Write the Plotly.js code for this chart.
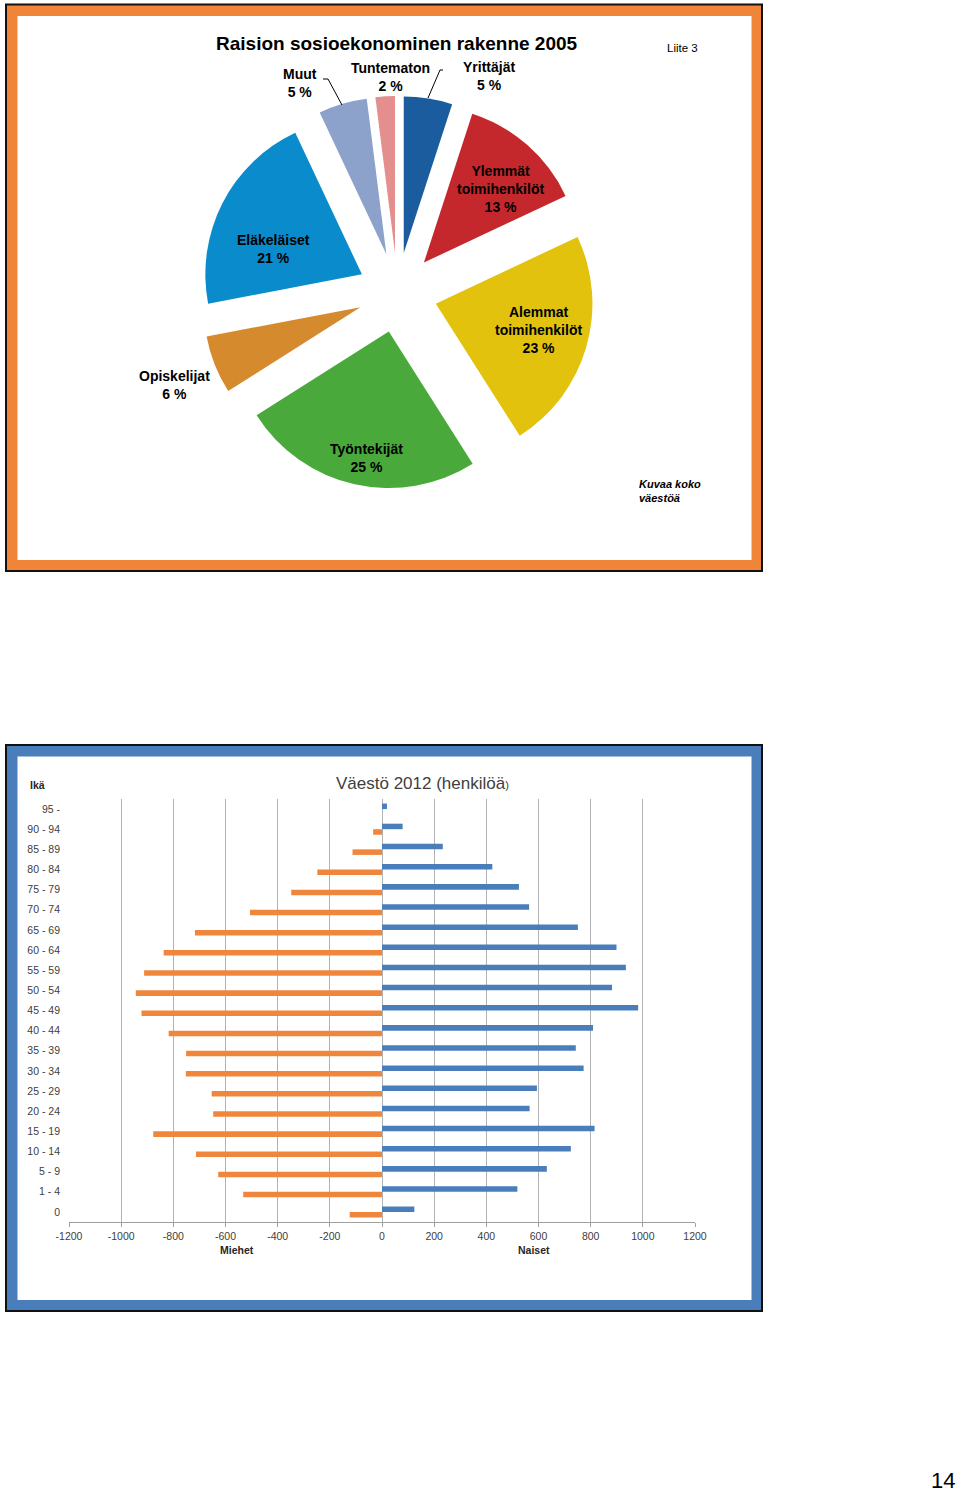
<!DOCTYPE html>
<html>
<head>
<meta charset="utf-8">
<script src="https://cdn.plot.ly/plotly-3.0.1.min.js"></script>
<style>
  body { margin: 0; background: #fff; }
  #page { width: 960px; height: 1495px; }
</style>
</head>
<body>
<div id="page"></div>
<script>
// sosioekonominen rakenne 2005 (%)
const pieLabels = ['Yrittäjät', 'Ylemmät toimihenkilöt', 'Alemmat toimihenkilöt', 'Työntekijät',
                   'Opiskelijat', 'Eläkeläiset', 'Muut', 'Tuntematon'];
const pieValues = [5, 13, 23, 25, 6, 21, 5, 2];
const pieColors = ['#1B5C9E', '#C4282C', '#E2C20C', '#4AA93B', '#D68A2E', '#0A8BCB', '#8CA2CB', '#E48E8E'];

// väestö 2012, ikäryhmät alhaalta ylös
const ageGroups = ['0', '1 - 4', '5 - 9', '10 - 14', '15 - 19', '20 - 24', '25 - 29', '30 - 34',
                   '35 - 39', '40 - 44', '45 - 49', '50 - 54', '55 - 59', '60 - 64', '65 - 69',
                   '70 - 74', '75 - 79', '80 - 84', '85 - 89', '90 - 94', '95 -'];
const men   = [124, 532, 628, 713, 877, 647, 653, 752, 751, 818, 922, 944, 912, 837, 717, 506, 348, 248, 113, 34, 0];
const women = [124, 519, 632, 724, 815, 566, 594, 773, 743, 809, 982, 882, 935, 899, 751, 564, 525, 423, 233, 79, 19];
const xTicks = [-1200, -1000, -800, -600, -400, -200, 0, 200, 400, 600, 800, 1000, 1200];

const W = 960, H = 1495;
const px = x => x / W;
const py = y => 1 - y / H;

// label block centres for the pie (pixels on the page)
const pieLabelPos = [[489, 76], [500, 189], [538, 330], [366, 458], [174, 385], [273, 249], [300, 83], [390, 77]];

const bold = 'Liberation Sans, Arial, sans-serif';

function frame(x0, y0, x1, y1, color) {
  return [
    {type: 'rect', xref: 'paper', yref: 'paper', layer: 'below',
     x0: px(x0), x1: px(x1), y0: py(y1), y1: py(y0), fillcolor: '#111', line: {width: 0}},
    {type: 'rect', xref: 'paper', yref: 'paper', layer: 'below',
     x0: px(x0 + 2), x1: px(x1 - 2), y0: py(y1 - 2), y1: py(y0 + 2), fillcolor: color, line: {width: 0}},
    {type: 'rect', xref: 'paper', yref: 'paper', layer: 'below',
     x0: px(x0 + 12.5), x1: px(x1 - 11.5), y0: py(y1 - 12), y1: py(y0 + 12.5), fillcolor: '#fff', line: {width: 0}}
  ];
}

function leader(points) {
  const path = points.map((p, i) => (i ? 'L' : 'M') + px(p[0]) + ',' + py(p[1])).join(' ');
  return {type: 'path', xref: 'paper', yref: 'paper', path: path, line: {color: '#000', width: 1}};
}

const pie = {
  type: 'pie',
  labels: pieLabels,
  values: pieValues,
  sort: false,
  direction: 'clockwise',
  rotation: 0,
  pull: pieValues.map(() => 0.255),
  marker: {colors: pieColors, line: {width: 0}},
  textinfo: 'none',
  hoverinfo: 'label+percent',
  showlegend: false,
  domain: {x: [px(201), px(594)], y: [py(490), py(95)]}
};

const menTrace = {
  type: 'bar', orientation: 'h', name: 'Miehet',
  y: ageGroups, x: men.map(v => -v),
  marker: {color: '#F0863C'}, showlegend: false
};
const womenTrace = {
  type: 'bar', orientation: 'h', name: 'Naiset',
  y: ageGroups, x: women,
  marker: {color: '#4A7EBB'}, showlegend: false
};

const annotations = pieLabels.map((lab, i) => ({
  xref: 'paper', yref: 'paper',
  x: px(pieLabelPos[i][0]), y: py(pieLabelPos[i][1]),
  xanchor: 'center', yanchor: 'middle',
  text: '<b>' + lab.replace(' ', '<br>') + '<br>' + pieValues[i] + ' %</b>',
  showarrow: false, align: 'center',
  font: {family: bold, size: 14, color: '#000'}
}));

annotations.push(
  {xref: 'paper', yref: 'paper', x: px(397), y: py(44), xanchor: 'center', yanchor: 'middle',
   text: '<b>Raision sosioekonominen rakenne 2005</b>', showarrow: false,
   font: {family: bold, size: 19, color: '#000'}},
  {xref: 'paper', yref: 'paper', x: px(665), y: py(48), xanchor: 'left', yanchor: 'middle',
   text: 'Liite 3', showarrow: false, font: {family: bold, size: 11.5, color: '#000'}},
  {xref: 'paper', yref: 'paper', x: px(637), y: py(491), xanchor: 'left', yanchor: 'middle',
   text: '<b><i>Kuvaa koko<br>väestöä</i></b>', showarrow: false, align: 'left',
   font: {family: bold, size: 11, color: '#000'}},
  {xref: 'paper', yref: 'paper', x: px(422), y: py(783), xanchor: 'center', yanchor: 'middle',
   text: 'Väestö 2012 (henkilöä<span style="font-size:11px">)</span>', showarrow: false,
   font: {family: bold, size: 17, color: '#404040'}},
  {xref: 'paper', yref: 'paper', x: px(28), y: py(785), xanchor: 'left', yanchor: 'middle',
   text: '<b>Ikä</b>', showarrow: false, font: {family: bold, size: 10.5, color: '#262626'}},
  {xref: 'paper', yref: 'paper', x: px(237), y: py(1250), xanchor: 'center', yanchor: 'middle',
   text: '<b>Miehet</b>', showarrow: false, font: {family: bold, size: 10.5, color: '#262626'}},
  {xref: 'paper', yref: 'paper', x: px(534), y: py(1250), xanchor: 'center', yanchor: 'middle',
   text: '<b>Naiset</b>', showarrow: false, font: {family: bold, size: 10.5, color: '#262626'}},
  {xref: 'paper', yref: 'paper', x: px(956), y: py(1494), xanchor: 'right', yanchor: 'bottom',
   borderpad: 0, text: '14', showarrow: false, font: {family: bold, size: 22, color: '#000'}}
);

const shapes = [].concat(
  frame(5, 3.5, 763, 572, '#F0853A'),
  frame(5, 744, 763, 1312, '#4A7EBB'),
  [leader([[323, 79], [328, 79], [342, 105]]),
   leader([[443, 70], [440, 70], [428, 98]])]
);

const tickFont = {family: bold, size: 10.5, color: '#404040'};

const layout = {
  width: W, height: H,
  margin: {l: 0, r: 0, t: 0, b: 0},
  paper_bgcolor: '#fff', plot_bgcolor: 'rgba(0,0,0,0)',
  barmode: 'group', bargap: 0.45, bargroupgap: 0,
  xaxis: {
    domain: [px(69), px(695)], range: [-1200, 1200],
    tickvals: xTicks, ticktext: xTicks.map(String),
    showgrid: true, gridcolor: '#B2B2B2', gridwidth: 1,
    zeroline: true, zerolinecolor: '#B2B2B2', zerolinewidth: 1,
    showline: true, linecolor: '#A0A0A0', linewidth: 1,
    ticks: 'outside', ticklen: 4, tickcolor: '#A0A0A0',
    tickfont: tickFont, fixedrange: true
  },
  yaxis: {
    domain: [py(1222), py(799)],
    type: 'category', categoryorder: 'array', categoryarray: ageGroups,
    showgrid: false, zeroline: false, showline: false,
    ticks: '', ticklabelstandoff: 8,
    tickfont: tickFont, fixedrange: true
  },
  shapes: shapes,
  annotations: annotations
};

Plotly.newPlot('page', [pie, menTrace, womenTrace], layout, {displayModeBar: false, staticPlot: true});
</script>
</body>
</html>
